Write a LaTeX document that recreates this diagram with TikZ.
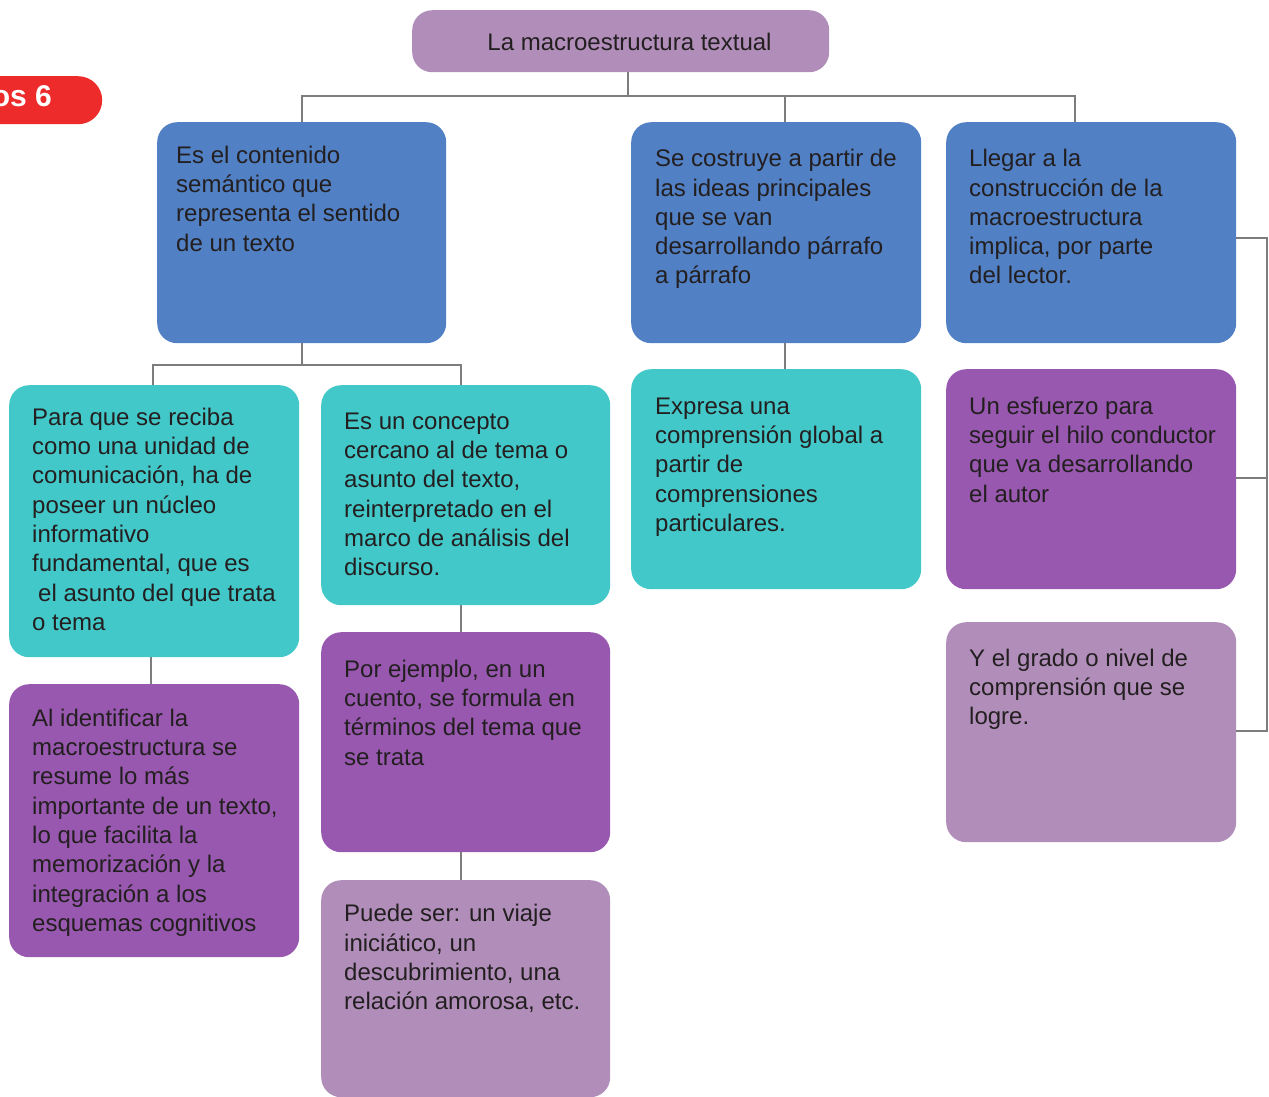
\documentclass[tikz,border=0pt]{standalone}
\usepackage{fontspec}
\setmainfont{Liberation Sans}
\definecolor{cblue}{RGB}{81,128,196}
\definecolor{cteal}{RGB}{67,200,201}
\definecolor{cpurple}{RGB}{152,88,175}
\definecolor{clilac}{RGB}{177,142,186}
\definecolor{cred}{RGB}{238,43,43}
\definecolor{cline}{RGB}{125,125,125}
\definecolor{ctext}{RGB}{35,31,32}
\tikzset{
  box/.style={draw=none, rounded corners=20pt, anchor=north west, inner sep=0pt},
  txt/.style={anchor=north west, inner sep=0pt, align=left, text=ctext,
    font=\fontsize{24pt}{29.3pt}\selectfont},
  conn/.style={draw=cline, line width=1.4pt}
}
\begin{document}
\begin{tikzpicture}[x=1pt,y=-1pt]
\useasboundingbox (0,0) rectangle (1269,1096);
\clip (0,0) rectangle (1269,1096);
% red tab
\node[box, fill=cred, rounded corners=24pt, minimum width=150pt, minimum height=48pt] (tab) at (-48,76) {};
\node[anchor=base east, inner sep=0pt, text=white, font=\bfseries\fontsize{30pt}{30pt}\selectfont] (tabt) at (52,106) {os 6};
% boxes
\node[box, fill=clilac, minimum width=417pt, minimum height=62pt] (T) at (412,10) {};
\node[box, fill=cblue, minimum width=289pt, minimum height=221pt] (A) at (157,122) {};
\node[box, fill=cblue, minimum width=290pt, minimum height=221pt] (B) at (631,122) {};
\node[box, fill=cblue, minimum width=290pt, minimum height=221pt] (C) at (946,122) {};
\node[box, fill=cteal, minimum width=290pt, minimum height=272pt] (D) at (9,385) {};
\node[box, fill=cteal, minimum width=289pt, minimum height=220pt] (E) at (321,385) {};
\node[box, fill=cpurple, minimum width=290pt, minimum height=273pt] (F) at (9,684) {};
\node[box, fill=cpurple, minimum width=289pt, minimum height=220pt] (G) at (321,632) {};
\node[box, fill=clilac, minimum width=289pt, minimum height=217pt] (H) at (321,880) {};
\node[box, fill=cteal, minimum width=290pt, minimum height=220pt] (I) at (631,369) {};
\node[box, fill=cpurple, minimum width=290pt, minimum height=220pt] (J) at (946,369) {};
\node[box, fill=clilac, minimum width=290pt, minimum height=220pt] (K) at (946,622) {};
% texts
\node[anchor=base, inner sep=0pt, text=ctext, font=\fontsize{24pt}{29.3pt}\selectfont] (Tt) at (629.5,50) {La macroestructura textual};
\node[txt] (At) at (176,142.5) {\strut Es el contenido\\semántico que\\representa el sentido\\de un texto};
\node[txt] (Bt) at (655,146) {\strut Se costruye a partir de\\las ideas principales\\que se van\\desarrollando párrafo\\a párrafo};
\node[txt] (Ct) at (969,146) {\strut Llegar a la\\construcción de la\\macroestructura\\implica, por parte\\del lector.};
\node[txt] (Dt) at (32,404.5) {\strut Para que se reciba\\como una unidad de\\comunicación, ha de\\poseer un núcleo\\informativo\\fundamental, que es\\\hspace*{6pt}el asunto del que trata\\o tema};
\node[txt] (Et) at (344,408.5) {\strut Es un concepto\\cercano al de tema o\\asunto del texto,\\reinterpretado en el\\marco de análisis del\\discurso.};
\node[txt] (Ft) at (32,705.5) {\strut Al identificar la\\macroestructura se\\resume lo más\\importante de un texto,\\lo que facilita la\\memorización y la\\integración a los\\esquemas cognitivos};
\node[txt] (Gt) at (344,656.5) {\strut Por ejemplo, en un\\cuento, se formula en\\términos del tema que\\se trata};
\node[txt] (Ht) at (344,901) {\strut Puede ser: un viaje\\iniciático, un\\descubrimiento, una\\relación amorosa, etc.};
\node[txt] (It) at (655,393.5) {\strut Expresa una\\comprensión global a\\partir de\\comprensiones\\particulares.};
\node[txt] (Jt) at (969,393.5) {\strut Un esfuerzo para\\seguir el hilo conductor\\que va desarrollando\\el autor};
\node[txt] (Kt) at (969,645.5) {\strut Y el grado o nivel de\\comprensión que se\\logre.};
% connectors
\coordinate (t0) at (628,96);
\coordinate (jA) at (302,96);
\coordinate (jB) at (785,96);
\coordinate (jC) at (1075,96);
\draw[conn] (t0 |- T.south) -- (t0);
\draw[conn] (jA |- A.north) -- (jA) -- (jC) -- (jC |- C.north);
\draw[conn] (jB) -- (jB |- B.north);
\coordinate (jA2) at (302,365);
\coordinate (jD) at (153,365);
\coordinate (jE) at (461,365);
\draw[conn] (jA2 |- A.south) -- (jA2);
\draw[conn] (jD |- D.north) -- (jD) -- (jE) -- (jE |- E.north);
\coordinate (jF) at (151,670);
\draw[conn] (jF |- D.south) -- (jF |- F.north);
\coordinate (jG) at (461,620);
\draw[conn] (jG |- E.south) -- (jG |- G.north);
\draw[conn] (jG |- G.south) -- (jG |- H.north);
\coordinate (jI) at (785,355);
\draw[conn] (jI |- B.south) -- (jI |- I.north);
\coordinate (r1) at (1267,238);
\coordinate (r2) at (1267,478);
\coordinate (r3) at (1267,731);
\draw[conn] (r1 -| C.east) -- (r1) -- (r3) -- (r3 -| K.east);
\draw[conn] (r2 -| J.east) -- (r2);
\end{tikzpicture}
\end{document}
